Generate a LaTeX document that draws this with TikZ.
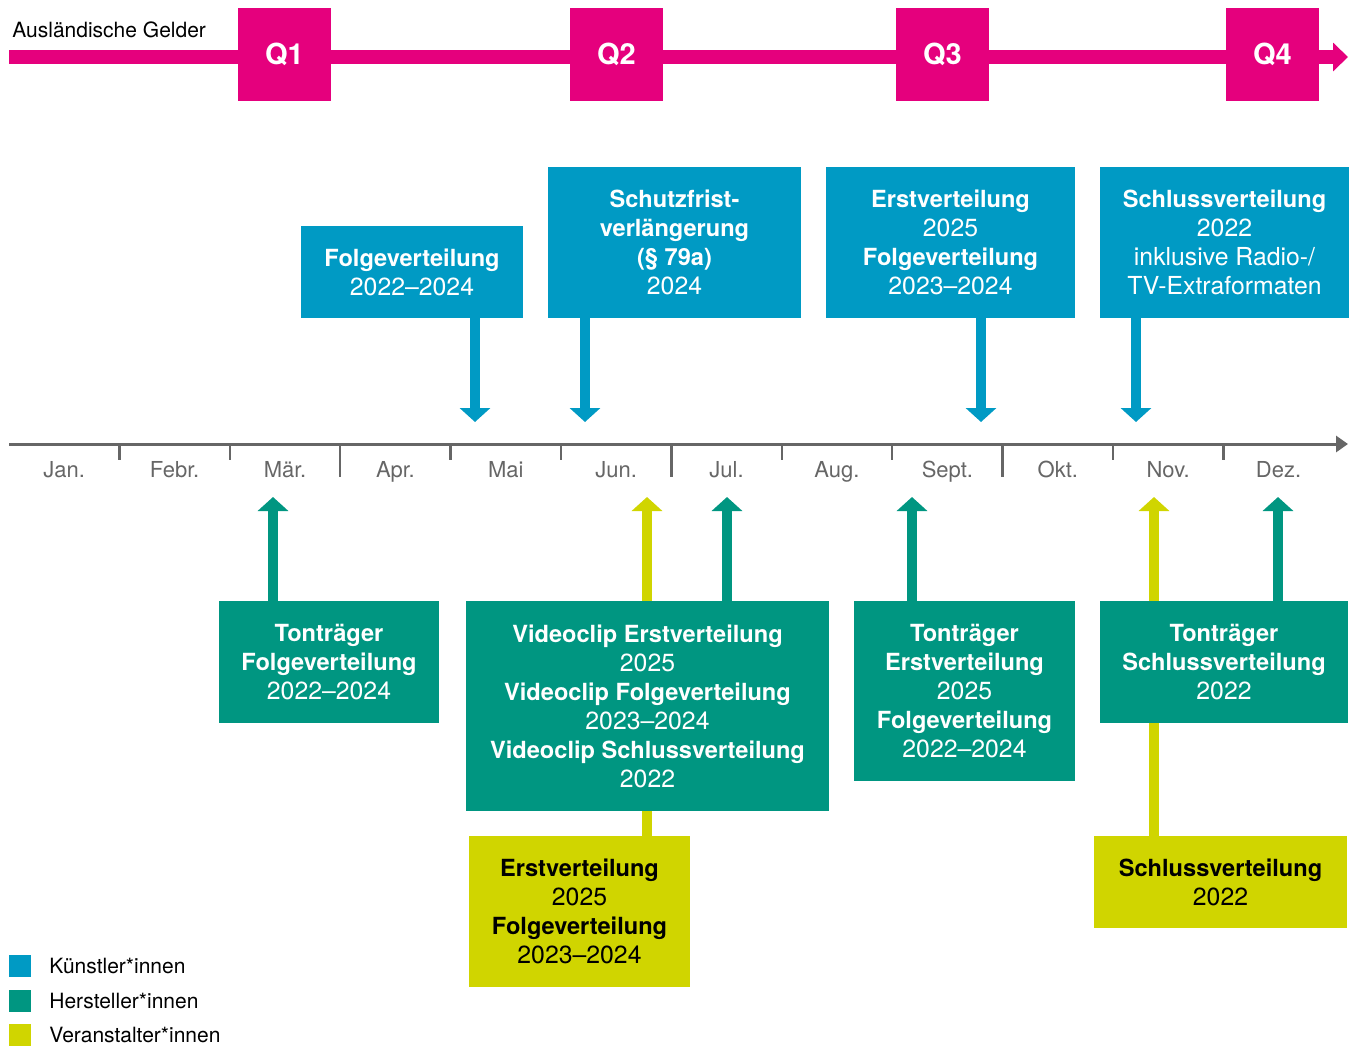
\documentclass[tikz,border=0pt]{standalone}
\usepackage{fontspec}
\setmainfont{TeX Gyre Heros}
\usetikzlibrary{arrows.meta}
\usetikzlibrary{backgrounds}
\definecolor{gmagenta}{HTML}{E5007D}
\definecolor{gblue}{HTML}{009AC4}
\definecolor{ggreen}{HTML}{009681}
\definecolor{gyellow}{HTML}{D0D500}
\definecolor{ggrey}{HTML}{666666}
\newcommand{\hl}[1]{{\fontsize{11.8}{14.5}\selectfont\bfseries #1}}
\tikzset{>={Triangle[length=7pt,width=15pt]}}
\tikzset{
  box/.style={inner sep=0pt, align=center, text=white,
    font=\fontsize{12.4}{14.5}\selectfont},
  bluebox/.style={box, fill=gblue},
  greenbox/.style={box, fill=ggreen},
  yellowbox/.style={box, fill=gyellow, text=black},
  quarter/.style={fill=gmagenta, text=white, minimum size=46.5pt, inner sep=0pt,
    font=\fontsize{14.5}{16}\selectfont\bfseries},
  fat arrow/.style={line width=5pt, ->},
  month/.style={anchor=base, inner sep=0pt, text=ggrey, font=\fontsize{11}{12}\selectfont},
  legendbox/.style={minimum size=11pt, inner sep=0pt},
  legendtext/.style={anchor=west, inner sep=0pt, font=\fontsize{10.5}{12}\selectfont},
}

\begin{document}
\begin{tikzpicture}[x=0.5pt,y=-0.5pt]
    \useasboundingbox (0,0) rectangle (1355,1045);
    % foreign money, quarters
    \coordinate (gstart) at (9,57);
    \coordinate (gend) at (1348,57);
    \draw[gmagenta, line width=7pt, -{Triangle[length=7.5pt,width=14pt]}] (gstart) -- (gend);
    \node[anchor=base west, inner sep=0pt, font=\fontsize{10.5}{12}\selectfont] (gelder) at (12,37) {Ausländische Gelder};
    \node[quarter] (q1) at (284.5,54.5) {Q1};
    \node[quarter] (q2) at (616.5,54.5) {Q2};
    \node[quarter] (q3) at (942.5,54.5) {Q3};
    \node[quarter] (q4) at (1272.5,54.5) {Q4};
    %
    % months
    \coordinate (astart) at (9,444);
    \coordinate (aend) at (1348,444);
    \draw[ggrey, line width=1.5pt, -{Triangle[length=6pt,width=8pt]}] (astart) -- (aend);
    \foreach \i in {1,2,4,5,7,8,10,11}
        \draw[ggrey, line width=1.2pt] ({9+110.4*\i},444) -- ++(0,16);
    \foreach \i in {3,6,9}
        \draw[ggrey, line width=1.2pt] ({9+110.4*\i},444) -- ++(0,33);
    \foreach \m [count=\i] in {Jan.,Febr.,Mär.,Apr.,Mai,Jun.,Jul.,Aug.,Sept.,Okt.,Nov.,Dez.}
        \node[month] (m\i) at ({9+110.4*(\i-0.5)},477) {\m};
    %
    % Kuenstler
    \node[bluebox, minimum width=111pt, minimum height=46pt] (b1) at (412,272)
        {\hl{Folgeverteilung}\\2022--2024};
    \node[bluebox, minimum width=126.5pt, minimum height=75.5pt] (b2) at (674.5,242.5)
        {\hl{Schutzfrist-}\\\hl{verlängerung}\\\hl{(§ 79a)}\\2024};
    \node[bluebox, minimum width=124.5pt, minimum height=75.5pt] (b3) at (950.5,242.5)
        {\hl{Erstverteilung}\\2025\\\hl{Folgeverteilung}\\2023--2024};
    \node[bluebox, minimum width=124.5pt, minimum height=75.5pt] (b4) at (1224.5,242.5)
        {\hl{Schlussverteilung}\\2022\\inklusive Radio-/\\TV-Extraformaten};
    %
    % Hersteller
    \node[greenbox, minimum width=110pt, minimum height=61pt] (g1) at (329,662)
        {\hl{Tonträger}\\\hl{Folgeverteilung}\\2022--2024};
    \node[greenbox, minimum width=181.5pt, minimum height=105pt] (g2) at (647.5,706)
        {\hl{Videoclip Erstverteilung}\\2025\\\hl{Videoclip Folgeverteilung}\\2023--2024\\\hl{Videoclip Schlussverteilung}\\2022};
    \node[greenbox, minimum width=110.5pt, minimum height=90pt] (g3) at (964.5,691)
        {\hl{Tonträger}\\\hl{Erstverteilung}\\2025\\\hl{Folgeverteilung}\\2022--2024};
    \node[greenbox, minimum width=124pt, minimum height=61pt] (g4) at (1224,662)
        {\hl{Tonträger}\\\hl{Schlussverteilung}\\2022};
    %
    % Veranstalter
    \node[yellowbox, minimum width=110.5pt, minimum height=75.5pt] (y1) at (579.5,911.5)
        {\hl{Erstverteilung}\\2025\\\hl{Folgeverteilung}\\2023--2024};
    \node[yellowbox, minimum width=126.5pt, minimum height=46pt] (y2) at (1220.5,882)
        {\hl{Schlussverteilung}\\2022};
    %
    % arrows to the months
    \coordinate (b1tip) at (475,422);
    \coordinate (b2tip) at (585,422);
    \coordinate (b3tip) at (981,422);
    \coordinate (b4tip) at (1136,422);
    \coordinate (g1tip) at (273,497);
    \coordinate (g2tip) at (727,497);
    \coordinate (g3tip) at (912,497);
    \coordinate (g4tip) at (1278,497);
    \coordinate (y1tip) at (647,497);
    \coordinate (y2tip) at (1154,497);
    \begin{scope}[on background layer]
        \draw[fat arrow, gblue] (b1.south -| b1tip) -- (b1tip);
        \draw[fat arrow, gblue] (b2.south -| b2tip) -- (b2tip);
        \draw[fat arrow, gblue] (b3.south -| b3tip) -- (b3tip);
        \draw[fat arrow, gblue] (b4.south -| b4tip) -- (b4tip);
        \draw[fat arrow, ggreen] (g1.north -| g1tip) -- (g1tip);
        \draw[fat arrow, ggreen] (g2.north -| g2tip) -- (g2tip);
        \draw[fat arrow, ggreen] (g3.north -| g3tip) -- (g3tip);
        \draw[fat arrow, ggreen] (g4.north -| g4tip) -- (g4tip);
        \draw[fat arrow, gyellow] (y1.north -| y1tip) -- (y1tip);
        \draw[fat arrow, gyellow] (y2.north -| y2tip) -- (y2tip);
    \end{scope}
    %
    % legend
    \node[legendbox, fill=gblue] (lk) at (20,966) {};
    \node[legendbox, fill=ggreen] (lh) at (20,1001) {};
    \node[legendbox, fill=gyellow] (lv) at (20,1035) {};
    \node[legendtext] (lktext) at (49,966) {Künstler*innen};
    \node[legendtext] (lhtext) at (49,1001) {Hersteller*innen};
    \node[legendtext] (lvtext) at (49,1035) {Veranstalter*innen};
\end{tikzpicture}
\end{document}
